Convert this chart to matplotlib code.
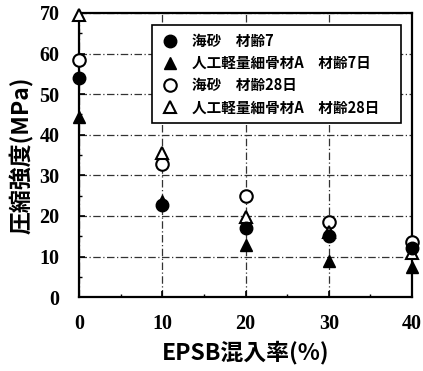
import matplotlib
matplotlib.use("Agg")
import matplotlib.pyplot as plt
from matplotlib.ticker import MultipleLocator

plt.rcParams['font.family'] = ['Noto Sans CJK JP', 'DejaVu Sans']

# EPSB replacement ratio (%)
epsb = [0, 10, 20, 30, 40]

# Compressive strength (MPa)
sea_sand_7d = [54.0, 22.8, 17.0, 15.0, 12.0]
artificial_7d = [44.5, 23.8, 12.8, 9.0, 7.5]
sea_sand_28d = [58.5, 32.8, 25.0, 18.5, 13.5]
artificial_28d = [69.5, 35.5, 19.8, 16.0, 11.0]

series_labels = ['海砂　材齢7', '人工軽量細骨材A　材齢7日',
                 '海砂　材齢28日', '人工軽量細骨材A　材齢28日']

fig = plt.figure(figsize=(4.23, 3.71), dpi=100)
ax = fig.add_axes([0.187, 0.199, 0.787, 0.766])

ax.set_xlim(0, 40)
ax.set_ylim(0, 70)
ax.xaxis.set_major_locator(MultipleLocator(10))
ax.yaxis.set_major_locator(MultipleLocator(10))
ax.xaxis.set_minor_locator(MultipleLocator(5))
ax.yaxis.set_minor_locator(MultipleLocator(5))
ax.tick_params(which='both', direction='in', top=False, right=False)
ax.tick_params(which='major', length=4, width=1.2)
ax.tick_params(which='minor', length=2.5, width=1.0)
ax.tick_params(axis='x', which='major', pad=12)
ax.tick_params(axis='y', which='major', pad=14)

ax.grid(True, which='major', color='#333333', linestyle=(0, (6, 2, 1, 2)), linewidth=0.9)
ax.set_axisbelow(True)
for s in ax.spines.values():
    s.set_linewidth(1.6)

ms = 9
kw = dict(linestyle='none', clip_on=False, zorder=3, color='black')
ax.plot(epsb, sea_sand_28d, marker='o', markersize=ms, markerfacecolor='white',
        markeredgewidth=1.5, label=series_labels[2], **kw)
ax.plot(epsb, artificial_28d, marker='^', markersize=ms, markerfacecolor='white',
        markeredgewidth=1.5, label=series_labels[3], **kw)
ax.plot(epsb, sea_sand_7d, marker='o', markersize=ms, markerfacecolor='black',
        label=series_labels[0], **kw)
ax.plot(epsb, artificial_7d, marker='^', markersize=ms, markerfacecolor='black',
        label=series_labels[1], **kw)

for lab in ax.get_xticklabels() + ax.get_yticklabels():
    lab.set_family('Liberation Serif')
    lab.set_fontweight('bold')
    lab.set_fontsize(14.5)

ax.set_xlabel('EPSB混入率(%)', fontsize=16.5, fontweight='bold', labelpad=5)
ax.set_ylabel('圧縮強度(MPa)', fontsize=16.5, fontweight='bold', labelpad=4)

handles, labels = ax.get_legend_handles_labels()
order = [2, 3, 0, 1]
leg = ax.legend([handles[i] for i in order], [labels[i] for i in order],
                loc='upper left', bbox_to_anchor=(0.219, 0.651, 0.748, 0.307),
                mode='expand', fancybox=False,
                framealpha=1, edgecolor='black',
                prop={'weight': 'bold', 'size': 10.5}, handletextpad=0.9,
                labelspacing=0.42, borderpad=0.55, handlelength=1.3,
                borderaxespad=0)
leg.get_frame().set_linewidth(1.2)
leg.set_zorder(5)

fig.savefig('out.png', dpi=100)
